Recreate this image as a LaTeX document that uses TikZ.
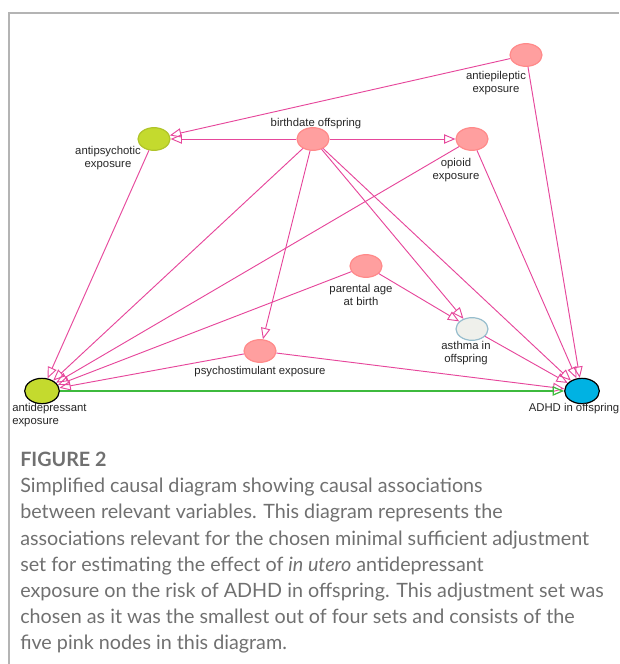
\documentclass[tikz,border=0pt]{standalone}
\usepackage{fontspec}
\setmainfont{Liberation Sans}
\newfontfamily\capfont{Lato}
\usetikzlibrary{shapes.geometric,arrows.meta}

\definecolor{dagpink}{HTML}{FF9F9F}
\definecolor{dagpinkline}{HTML}{FF8A8A}
\definecolor{daglime}{HTML}{C4DA2E}
\definecolor{dagcyan}{HTML}{00B2E3}
\definecolor{dagwhite}{HTML}{EFF0EB}
\definecolor{dagedge}{HTML}{E6479B}
\definecolor{daggreen}{HTML}{3DBA3D}
\definecolor{capgray}{HTML}{707070}
\definecolor{framegray}{HTML}{B4B4B4}

\tikzset{
    dag var/.style={
        ellipse,inner sep=0pt,line width=.9pt,
        minimum width=24,minimum height=17
    },
    adjusted var/.style={dag var,draw=dagpinkline,fill=dagpink},
    exposure var/.style={dag var,draw=black,fill=daglime,minimum width=26,minimum height=19},
    outcome var/.style={dag var,draw=black,fill=dagcyan,minimum width=26,minimum height=19},
    var label/.style={font=\fontsize{8.5}{9.8}\selectfont,text=black!85,align=center,inner sep=0pt},
    causal path/.style={draw=dagedge,line width=.7pt,-{Triangle[open,length=8.5pt,width=7pt]}},
    causal effect/.style={draw=daggreen,line width=.9pt,-{Triangle[open,length=8.5pt,width=7pt]}}
}

\begin{document}
\begin{tikzpicture}[x=.75pt,y=-.75pt]
        \useasboundingbox (0,0) rectangle (619,664);
        \draw[framegray,line width=1.1pt] (9,664) -- (9,13) -- (619,13);
        \node[adjusted var] (AEP) at (526,55) {};
        \node[dag var,draw=daglime!90!black,fill=daglime] (APS) at (154,139) {};
        \node[adjusted var] (BDO) at (313,139) {};
        \node[adjusted var] (OPI) at (472,139) {};
        \node[adjusted var] (PAR) at (366,266) {};
        \node[dag var,draw=gray!60!cyan!70,fill=dagwhite] (AST) at (472,329) {};
        \node[adjusted var] (PST) at (260,351) {};
        \node[exposure var] (ADP) at (42,391) {};
        \node[outcome var] (ADHD) at (582,391) {};
        \node[var label] (AEPlab) at (496,83.5) {antiepileptic\\exposure};
        \node[var label] (APSlab) at (108,158) {antipsychotic\\exposure};
        \node[var label] (BDOlab) at (316,124) {birthdate offspring};
        \node[var label] (OPIlab) at (456,170) {opioid\\exposure};
        \node[var label] (PARlab) at (361,295) {parental age\\at birth};
        \node[var label] (ASTlab) at (466,353.5) {asthma in\\offspring};
        \node[var label] (PSTlab) at (260,372) {psychostimulant exposure};
        \node[var label,anchor=west,align=left] (ADPlab) at (12,415) {antidepressant\\exposure};
        \node[var label] (ADHDlab) at (574,409) {ADHD in offspring};
        \foreach \from/\to in {AEP/APS,AEP/ADHD,BDO/APS,BDO/OPI,BDO/ADP,BDO/PST,BDO/AST,BDO/ADHD,
            APS/ADP,OPI/ADP,OPI/ADHD,PAR/ADP,PAR/AST,PST/ADP,PST/ADHD,AST/ADHD}
            \draw[causal path] (\from) -- (\to);
        \draw[causal effect] (ADP) -- (ADHD);
        \node[anchor=north west,align=left,inner sep=0pt,text=capgray,
            font=\capfont\fontsize{14.8}{19.6}\selectfont] (caption) at (20,452) {%
            {\bfseries FIGURE 2}\\
            Simplified causal diagram showing causal associations\\
            between relevant variables. This diagram represents the\\
            associations relevant for the chosen minimal sufficient adjustment\\
            set for estimating the effect of \emph{in utero} antidepressant\\
            exposure on the risk of ADHD in offspring. This adjustment set was\\
            chosen as it was the smallest out of four sets and consists of the\\
            five pink nodes in this diagram.};
    \end{tikzpicture}
\end{document}
